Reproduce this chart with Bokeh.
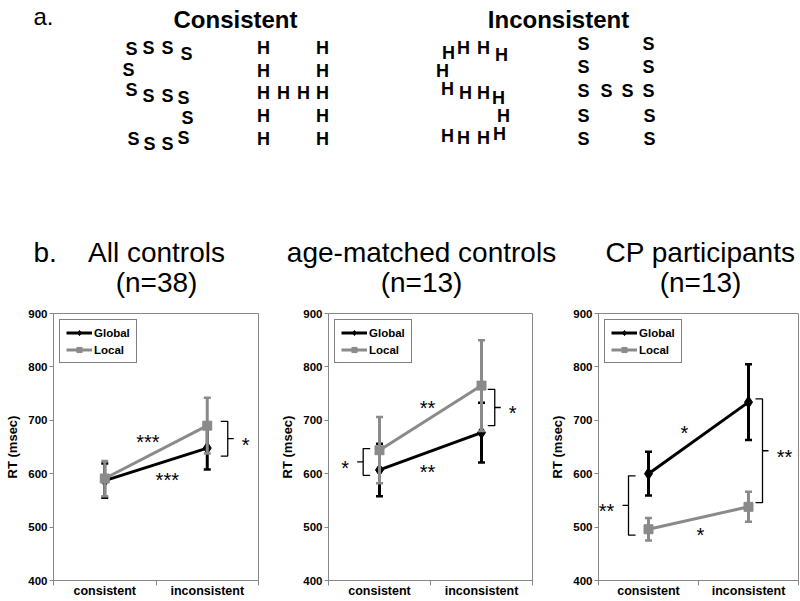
from bokeh.plotting import figure
from bokeh.models import Range1d, FixedTicker, ColumnDataSource, Legend, LegendItem
from bokeh.layouts import column, row
from bokeh.embed import file_html
from bokeh.resources import INLINE
from bokeh.core.properties import value

# ---------------- data ----------------
conditions = ["consistent", "inconsistent"]
y_ticks = [400, 500, 600, 700, 800, 900]
series_names = ["Global", "Local"]

panel_titles = ["All controls", "age-matched controls", "CP participants"]
panel_ns = ["(n=38)", "(n=13)", "(n=13)"]

all_global = [587, 648]
all_global_err = [32, 40]
all_local = [591, 690]
all_local_err = [33, 52]

age_global = [607, 677]
age_global_err = [49, 56]
age_local = [644, 765]
age_local_err = [62, 85]

cp_global = [600, 734]
cp_global_err = [41, 71]
cp_local = [496, 538]
cp_local_err = [21, 28]

# significance marks: (label, x in category units, y in msec)
all_stars = [("***", 0.92, 670), ("***", 1.11, 600)]
age_stars = [("**", 0.97, 734), ("**", 0.97, 615)]
cp_stars = [("*", 0.86, 687), ("*", 1.02, 496)]
# brackets: (x, y bottom, y top, side, label)
all_brackets = [(1.70, 633, 698, "right", "*")]
age_brackets = [(1.63, 690, 758, "right", "*"), (0.34, 597, 647, "left", "*")]
cp_brackets = [(1.64, 546, 740, "right", "**"), (0.30, 485, 596, "left", "**")]

# panel a: Navon stimuli (letter positions on the page)
con_global_S = [(131, 48), (148, 47), (167, 47), (186, 53), (128, 69),
                (131, 89), (148, 95), (167, 95), (183, 97), (187, 117),
                (133, 138), (149, 143), (167, 143), (183, 137)]
con_local_H = [(263, 47), (263, 70), (263, 92), (263, 115), (263, 138),
               (322, 47), (322, 70), (322, 92), (322, 115), (322, 138),
               (283, 92), (303, 92)]
inc_global_S = [(448, 52), (463, 47), (483, 47), (501, 54), (442, 70),
                (447, 88), (465, 92), (483, 92), (498, 97), (503, 115),
                (447, 135), (463, 137), (483, 137), (499, 133)]
inc_local_H = [(583, 43), (583, 66), (583, 90), (583, 115), (583, 138),
               (648, 43), (648, 66), (648, 90), (649, 115), (649, 138),
               (606, 90), (627, 90)]

FONT = "Liberation Sans"
GRAY = "#8a8a8a"
AXIS_GRAY = "#878787"

# ---------------- top figure (panel a + titles) ----------------
top = figure(width=800, height=300, x_range=Range1d(0, 800), y_range=Range1d(300, 0),
             output_backend="svg", toolbar_location=None, min_border=0,
             x_axis_type=None, y_axis_type=None, outline_line_color=None)
top.grid.visible = False

top.text(x=[33], y=[16], text=["a."], text_font=value(FONT), text_font_size="24px",
         text_align="left", text_baseline="alphabetic", text_color="black")
top.text(x=[235, 558], y=[19, 19], text=["Consistent", "Inconsistent"],
         text_font=value(FONT), text_font_size="24px", text_font_style="bold",
         text_align="center", text_baseline="alphabetic", text_color="black")

letters_x, letters_y, letters_t = [], [], []
for group, letter in ((con_global_S, "S"), (con_local_H, "H"),
                      (inc_global_S, "H"), (inc_local_H, "S")):
    for (lx, ly) in group:
        letters_x.append(lx)
        letters_y.append(ly)
        letters_t.append(letter)
top.text(x=letters_x, y=letters_y, text=letters_t, text_font=value(FONT),
         text_font_size="18px", text_font_style="bold", text_align="center",
         text_baseline="middle", text_color="black")

top.text(x=[33], y=[252], text=["b."], text_font=value(FONT), text_font_size="28px",
         text_align="left", text_baseline="alphabetic", text_color="black")
title_x = [156, 421, 700]
top.text(x=title_x, y=[252] * 3, text=panel_titles, text_font=value(FONT),
         text_font_size="28px", text_align="center", text_baseline="alphabetic",
         text_color="black")
top.text(x=title_x, y=[282] * 3, text=panel_ns, text_font=value(FONT),
         text_font_size="28px", text_align="center", text_baseline="alphabetic",
         text_color="black")


# ---------------- panels b ----------------
def make_panel(glob, glob_err, loc, loc_err, stars, brackets, width, left, right):
    p = figure(width=width, height=300, x_range=Range1d(0, len(conditions)),
               y_range=Range1d(y_ticks[0], y_ticks[-1]),
               output_backend="svg", toolbar_location=None,
               min_border_left=left, min_border_right=right,
               min_border_top=13, min_border_bottom=18)
    p.grid.visible = False
    p.outline_line_color = AXIS_GRAY
    p.outline_line_width = 1
    p.background_fill_color = "white"
    p.border_fill_color = "white"
    frame_w = width - left - right
    px = len(conditions) / frame_w  # data units per pixel (x)

    xs = [i + 0.5 for i in range(len(conditions))]
    overrides = {}
    for xv, c in zip(xs, conditions):
        overrides[xv] = c
        overrides[str(xv)] = c

    xa = p.xaxis[0]
    xa.ticker = FixedTicker(ticks=xs, minor_ticks=list(range(len(conditions) + 1)))
    xa.major_label_overrides = overrides
    xa.major_tick_line_color = None
    xa.major_tick_out = 0
    xa.major_tick_in = 0
    xa.minor_tick_out = 5
    xa.minor_tick_in = 0
    xa.minor_tick_line_color = AXIS_GRAY
    xa.axis_line_color = AXIS_GRAY
    xa.major_label_standoff = -2
    xa.major_label_text_font = FONT
    xa.major_label_text_font_style = "bold"
    xa.major_label_text_font_size = "12.5px"
    xa.major_label_text_color = "black"

    ya = p.yaxis[0]
    ya.ticker = FixedTicker(ticks=y_ticks, minor_ticks=[])
    ya.axis_line_color = AXIS_GRAY
    ya.major_tick_line_color = AXIS_GRAY
    ya.major_tick_out = 4
    ya.major_tick_in = 0
    ya.minor_tick_line_color = None
    ya.major_label_standoff = 2
    ya.major_label_text_font = FONT
    ya.major_label_text_font_style = "bold"
    ya.major_label_text_font_size = "11.5px"
    ya.major_label_text_color = "black"
    ya.axis_label = "RT (msec)"
    ya.axis_label_text_font = FONT
    ya.axis_label_text_font_style = "bold"
    ya.axis_label_text_font_size = "13px"
    ya.axis_label_text_color = "black"
    ya.axis_label_standoff = 5

    renderers = {}
    for name, vals, errs, color, marker, msize in (
            ("Global", glob, glob_err, "black", "diamond", 12),
            ("Local", loc, loc_err, GRAY, "square", 9)):
        src = ColumnDataSource(dict(x=xs, y=vals,
                                    lo=[v - e for v, e in zip(vals, errs)],
                                    hi=[v + e for v, e in zip(vals, errs)]))
        p.segment(x0="x", y0="lo", x1="x", y1="hi", source=src, line_color=color, line_width=3)
        p.scatter(x="x", y="lo", source=src, marker="dash", size=7, line_color=color, line_width=2.5)
        p.scatter(x="x", y="hi", source=src, marker="dash", size=7, line_color=color, line_width=2.5)
        lr = p.line(x="x", y="y", source=src, line_color=color, line_width=3)
        sr = p.scatter(x="x", y="y", source=src, marker=marker, size=msize,
                       fill_color=color, line_color=color)
        renderers[name] = [lr, sr]

    legend = Legend(items=[LegendItem(label=n, renderers=renderers[n]) for n in series_names],
                    location="top_left")
    legend.border_line_color = "black"
    legend.border_line_width = 1
    legend.background_fill_color = "white"
    legend.background_fill_alpha = 1
    legend.label_text_font = FONT
    legend.label_text_font_style = "bold"
    legend.label_text_font_size = "11.5px"
    legend.label_text_color = "black"
    legend.glyph_width = 26
    legend.glyph_height = 13
    legend.label_height = 13
    legend.label_standoff = 2
    legend.padding = 6
    legend.spacing = 4
    legend.margin = 6
    p.add_layout(legend)

    # significance stars
    p.text(x=[s[1] for s in stars], y=[s[2] for s in stars], text=[s[0] for s in stars],
           text_font=value(FONT), text_font_size="20px", text_align="center",
           text_baseline="middle", y_offset=6, text_color="black")

    # brackets
    hook = 7 * px
    nub = 6 * px
    bxs, bys, lx, ly, lt = [], [], [], [], []
    for (bx, y0, y1, side, lab) in brackets:
        ym = (y0 + y1) / 2
        sgn = 1 if side == "right" else -1
        bxs.append([bx - sgn * hook, bx, bx, bx - sgn * hook])
        bys.append([y1, y1, y0, y0])
        bxs.append([bx, bx + sgn * nub])
        bys.append([ym, ym])
        lx.append(bx + sgn * (nub + 12 * px + (len(lab) - 1) * 4 * px))
        ly.append(ym)
        lt.append(lab)
    p.multi_line(xs=bxs, ys=bys, line_color="black", line_width=1.3)
    p.text(x=lx, y=ly, text=lt, text_font=value(FONT), text_font_size="20px",
           text_align="center", text_baseline="middle", y_offset=6, text_color="black")
    return p


p1 = make_panel(all_global, all_global_err, all_local, all_local_err,
                all_stars, all_brackets, 265, 53, 7)
p2 = make_panel(age_global, age_global_err, age_local, age_local_err,
                age_stars, age_brackets, 275, 63, 8)
p3 = make_panel(cp_global, cp_global_err, cp_local, cp_local_err,
                cp_stars, cp_brackets, 260, 58, 2)

layout = column(top, row(p1, p2, p3))
open("out.html", "w").write(file_html(layout, INLINE))
